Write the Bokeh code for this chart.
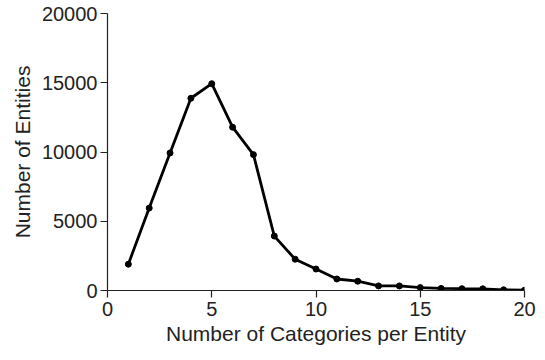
from bokeh.plotting import figure
from bokeh.models import Range1d, ColumnDataSource, FixedTicker
from bokeh.embed import file_html
from bokeh.resources import INLINE

categories = [1, 2, 3, 4, 5, 6, 7, 8, 9, 10, 11, 12, 13, 14, 15, 16, 17, 18, 19, 20]
entities = [1900, 5950, 9930, 13880, 14930, 11790, 9810, 3930, 2260, 1550,
            830, 670, 330, 330, 210, 150, 130, 120, 50, 20]
x_ticks = [0, 5, 10, 15, 20]
y_ticks = [0, 5000, 10000, 15000, 20000]

src = ColumnDataSource(dict(x=categories, y=entities))

p = figure(frame_width=417, frame_height=277, output_backend="svg", toolbar_location=None,
           x_range=Range1d(0, 20), y_range=Range1d(0, 20000),
           min_border_left=107, min_border_right=12, min_border_top=13, min_border_bottom=60)
p.outline_line_color = None
p.grid.visible = False
p.background_fill_color = "white"

p.line("x", "y", source=src, line_color="black", line_width=2.8)
p.scatter("x", "y", source=src, size=6, color="black")

font = "Liberation Sans"
for ax in (p.xaxis[0], p.yaxis[0]):
    ax.axis_line_color = "#222222"
    ax.axis_line_width = 1.2
    ax.major_tick_line_color = "#222222"
    ax.major_tick_line_width = 1.2
    ax.major_tick_in = 0
    ax.major_tick_out = 7
    ax.minor_tick_line_color = None
    ax.major_label_text_font = font
    ax.major_label_text_font_size = "20px"
    ax.major_label_text_color = "#222222"
    ax.axis_label_text_font = font
    ax.axis_label_text_font_size = "21px"
    ax.axis_label_text_font_style = "normal"
    ax.axis_label_text_color = "#222222"

p.xaxis.ticker = FixedTicker(ticks=x_ticks)
p.yaxis.ticker = FixedTicker(ticks=y_ticks)
p.xaxis.axis_label = "Number of Categories per Entity"
p.yaxis.axis_label = "Number of Entities"
p.xaxis.major_label_standoff = 4
p.yaxis.major_label_standoff = 3
p.xaxis.axis_label_standoff = 3
p.yaxis.axis_label_standoff = 5

open("out.html", "w").write(file_html(p, INLINE))
